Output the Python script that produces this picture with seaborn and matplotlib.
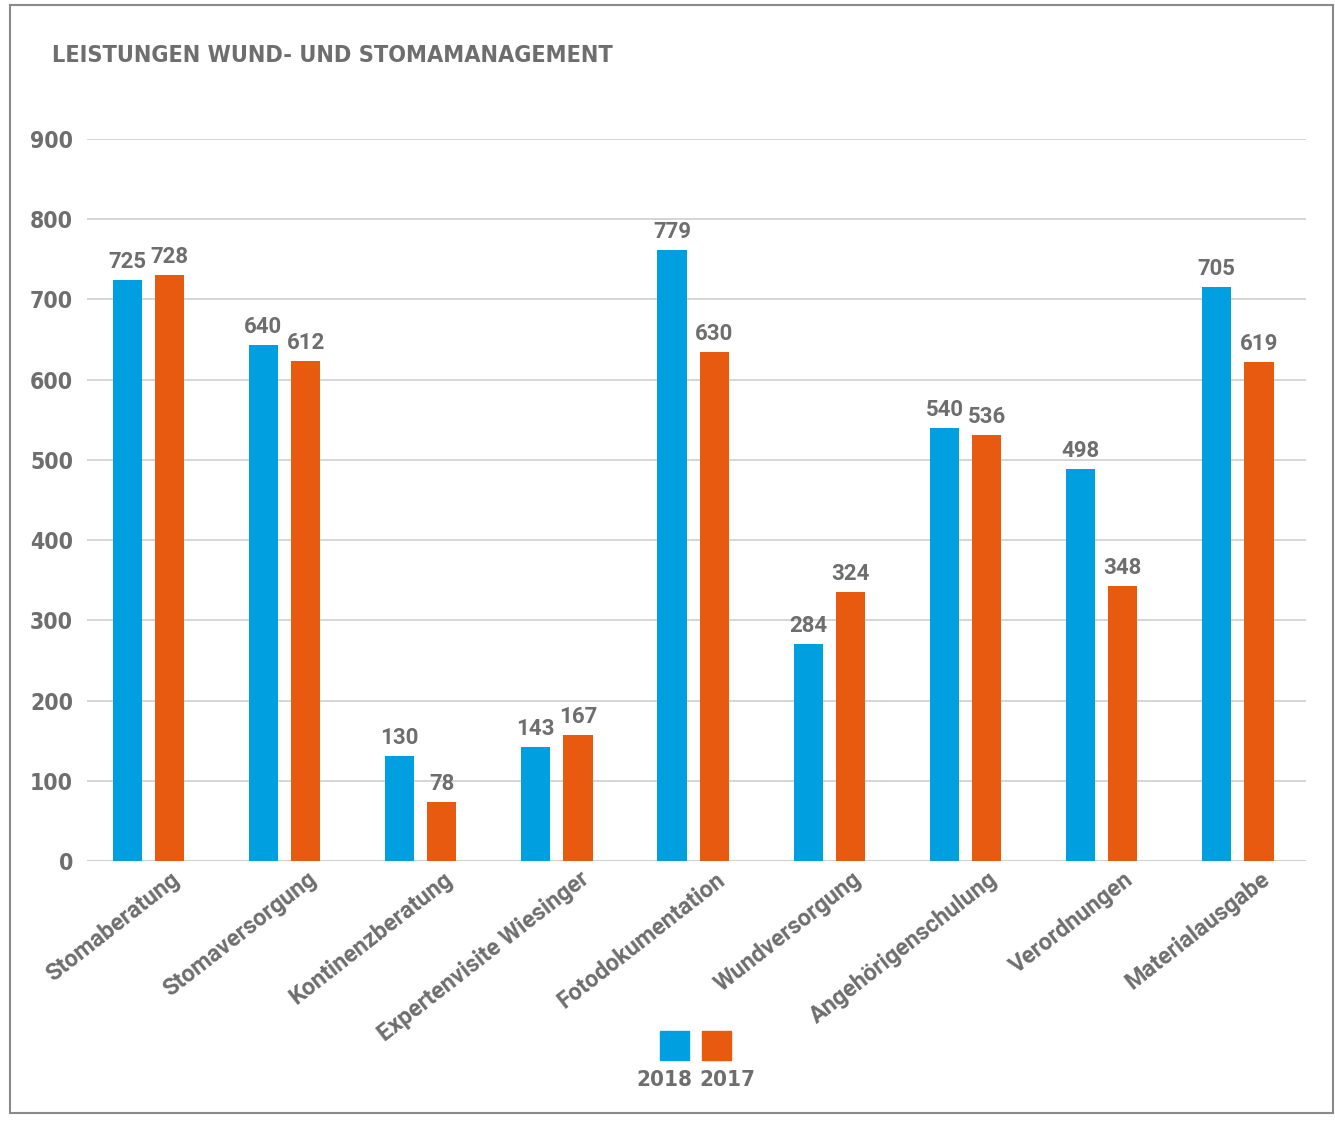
import matplotlib
matplotlib.use("Agg")
import matplotlib.pyplot as plt
import matplotlib.transforms as mtransforms
from matplotlib.patches import Rectangle
from matplotlib import font_manager
import seaborn as sns
import pandas as pd

categories = ["Stomaberatung", "Stomaversorgung", "Kontinenzberatung",
              "Expertenvisite Wiesinger", "Fotodokumentation", "Wundversorgung",
              "Angehörigenschulung", "Verordnungen", "Materialausgabe"]
years = ["2018", "2017"]
# bar heights as drawn in the picture
heights_2018 = [724, 643, 131, 142, 762, 271, 540, 489, 716]
heights_2017 = [731, 623, 74, 157, 635, 335, 531, 343, 622]
# printed value labels
labels_2018 = ["725", "640", "130", "143", "779", "284", "540", "498", "705"]
labels_2017 = ["728", "612", "78", "167", "630", "324", "536", "348", "619"]
yticks = [0, 100, 200, 300, 400, 500, 600, 700, 800, 900]
title = "LEISTUNGEN WUND- UND STOMAMANAGEMENT"

colors = {"2018": "#009FE0", "2017": "#E85A0F"}
gray = "#6E6E6E"

df = pd.DataFrame({
    "Kategorie": categories * 2,
    "Jahr": ["2018"] * len(categories) + ["2017"] * len(categories),
    "Wert": heights_2018 + heights_2017,
})

sns.set_theme(style="white")
plt.rcParams["font.family"] = ["DejaVu Sans"]

cond = font_manager.FontProperties(family="DejaVu Sans", stretch="condensed", weight="bold")
cat_fp = font_manager.FontProperties(family="Roboto", weight="bold", size=16.8)
val_fp = font_manager.FontProperties(family="Roboto", weight="bold", size=16)

W, H = 1335, 1124
fig = plt.figure(figsize=(W / 100, H / 100), dpi=100)
ax = fig.add_axes([87 / W, 1 - 861 / H, (1306 - 87) / W, (861 - 139) / H])

sns.barplot(data=df, x="Kategorie", y="Wert", hue="Jahr", hue_order=years,
            palette=colors, width=0.62, gap=0.31, ax=ax, legend=False,
            saturation=1, linewidth=0)

ax.set_ylim(0, 900)
ax.set_yticks(yticks)
ax.set_xlim(-0.45, len(categories) - 0.5)
ax.set_xlabel("")
ax.set_ylabel("")
for s in ax.spines.values():
    s.set_visible(False)
ax.yaxis.grid(True, color="#D2D2D2", linewidth=1.3)
ax.set_axisbelow(True)
ax.axhline(0, color="#CFCFCF", linewidth=2.2, zorder=0.5)
ax.tick_params(axis="y", length=0, pad=10, labelcolor=gray)
for t in ax.get_yticklabels():
    t.set_fontproperties(cond)
    t.set_fontsize(16.5)

ax.tick_params(axis="x", length=0, pad=2)
ax.set_xticks(range(len(categories)))
ax.set_xticklabels(categories, rotation=38, ha="right", va="top",
                   rotation_mode="anchor", color=gray, fontproperties=cat_fp)
off = mtransforms.ScaledTranslation(22 / 100, -4 / 100, fig.dpi_scale_trans)
for t in ax.get_xticklabels():
    t.set_transform(t.get_transform() + off)

# value labels
for cont, labs in zip(ax.containers, [labels_2018, labels_2017]):
    ax.bar_label(cont, labels=labs, padding=5, color=gray, fontproperties=val_fp)

fig.text(52 / W, 1 - 55 / H, title, fontproperties=cond, fontsize=16.8,
         color=gray, va="center", ha="left")

# legend (squares above year labels)
leg_x = [660, 702]
leg_tx = [664, 727]
for i, y in enumerate(years):
    fig.patches.append(Rectangle((leg_x[i] / W, 1 - 1060 / H), 29 / W, 29 / H,
                                 transform=fig.transFigure, color=colors[y]))
    fig.text(leg_tx[i] / W, 1 - 1080 / H, y, fontproperties=cond, fontsize=16,
             color=gray, ha="center", va="center")

# outer frame
fig.patches.append(Rectangle((10 / W, 1 - 1113 / H), (1333 - 10) / W, (1113 - 5) / H,
                             transform=fig.transFigure, fill=False,
                             edgecolor="#8A8A8A", linewidth=1.5))

fig.savefig("out.png", dpi=100, facecolor="white")
